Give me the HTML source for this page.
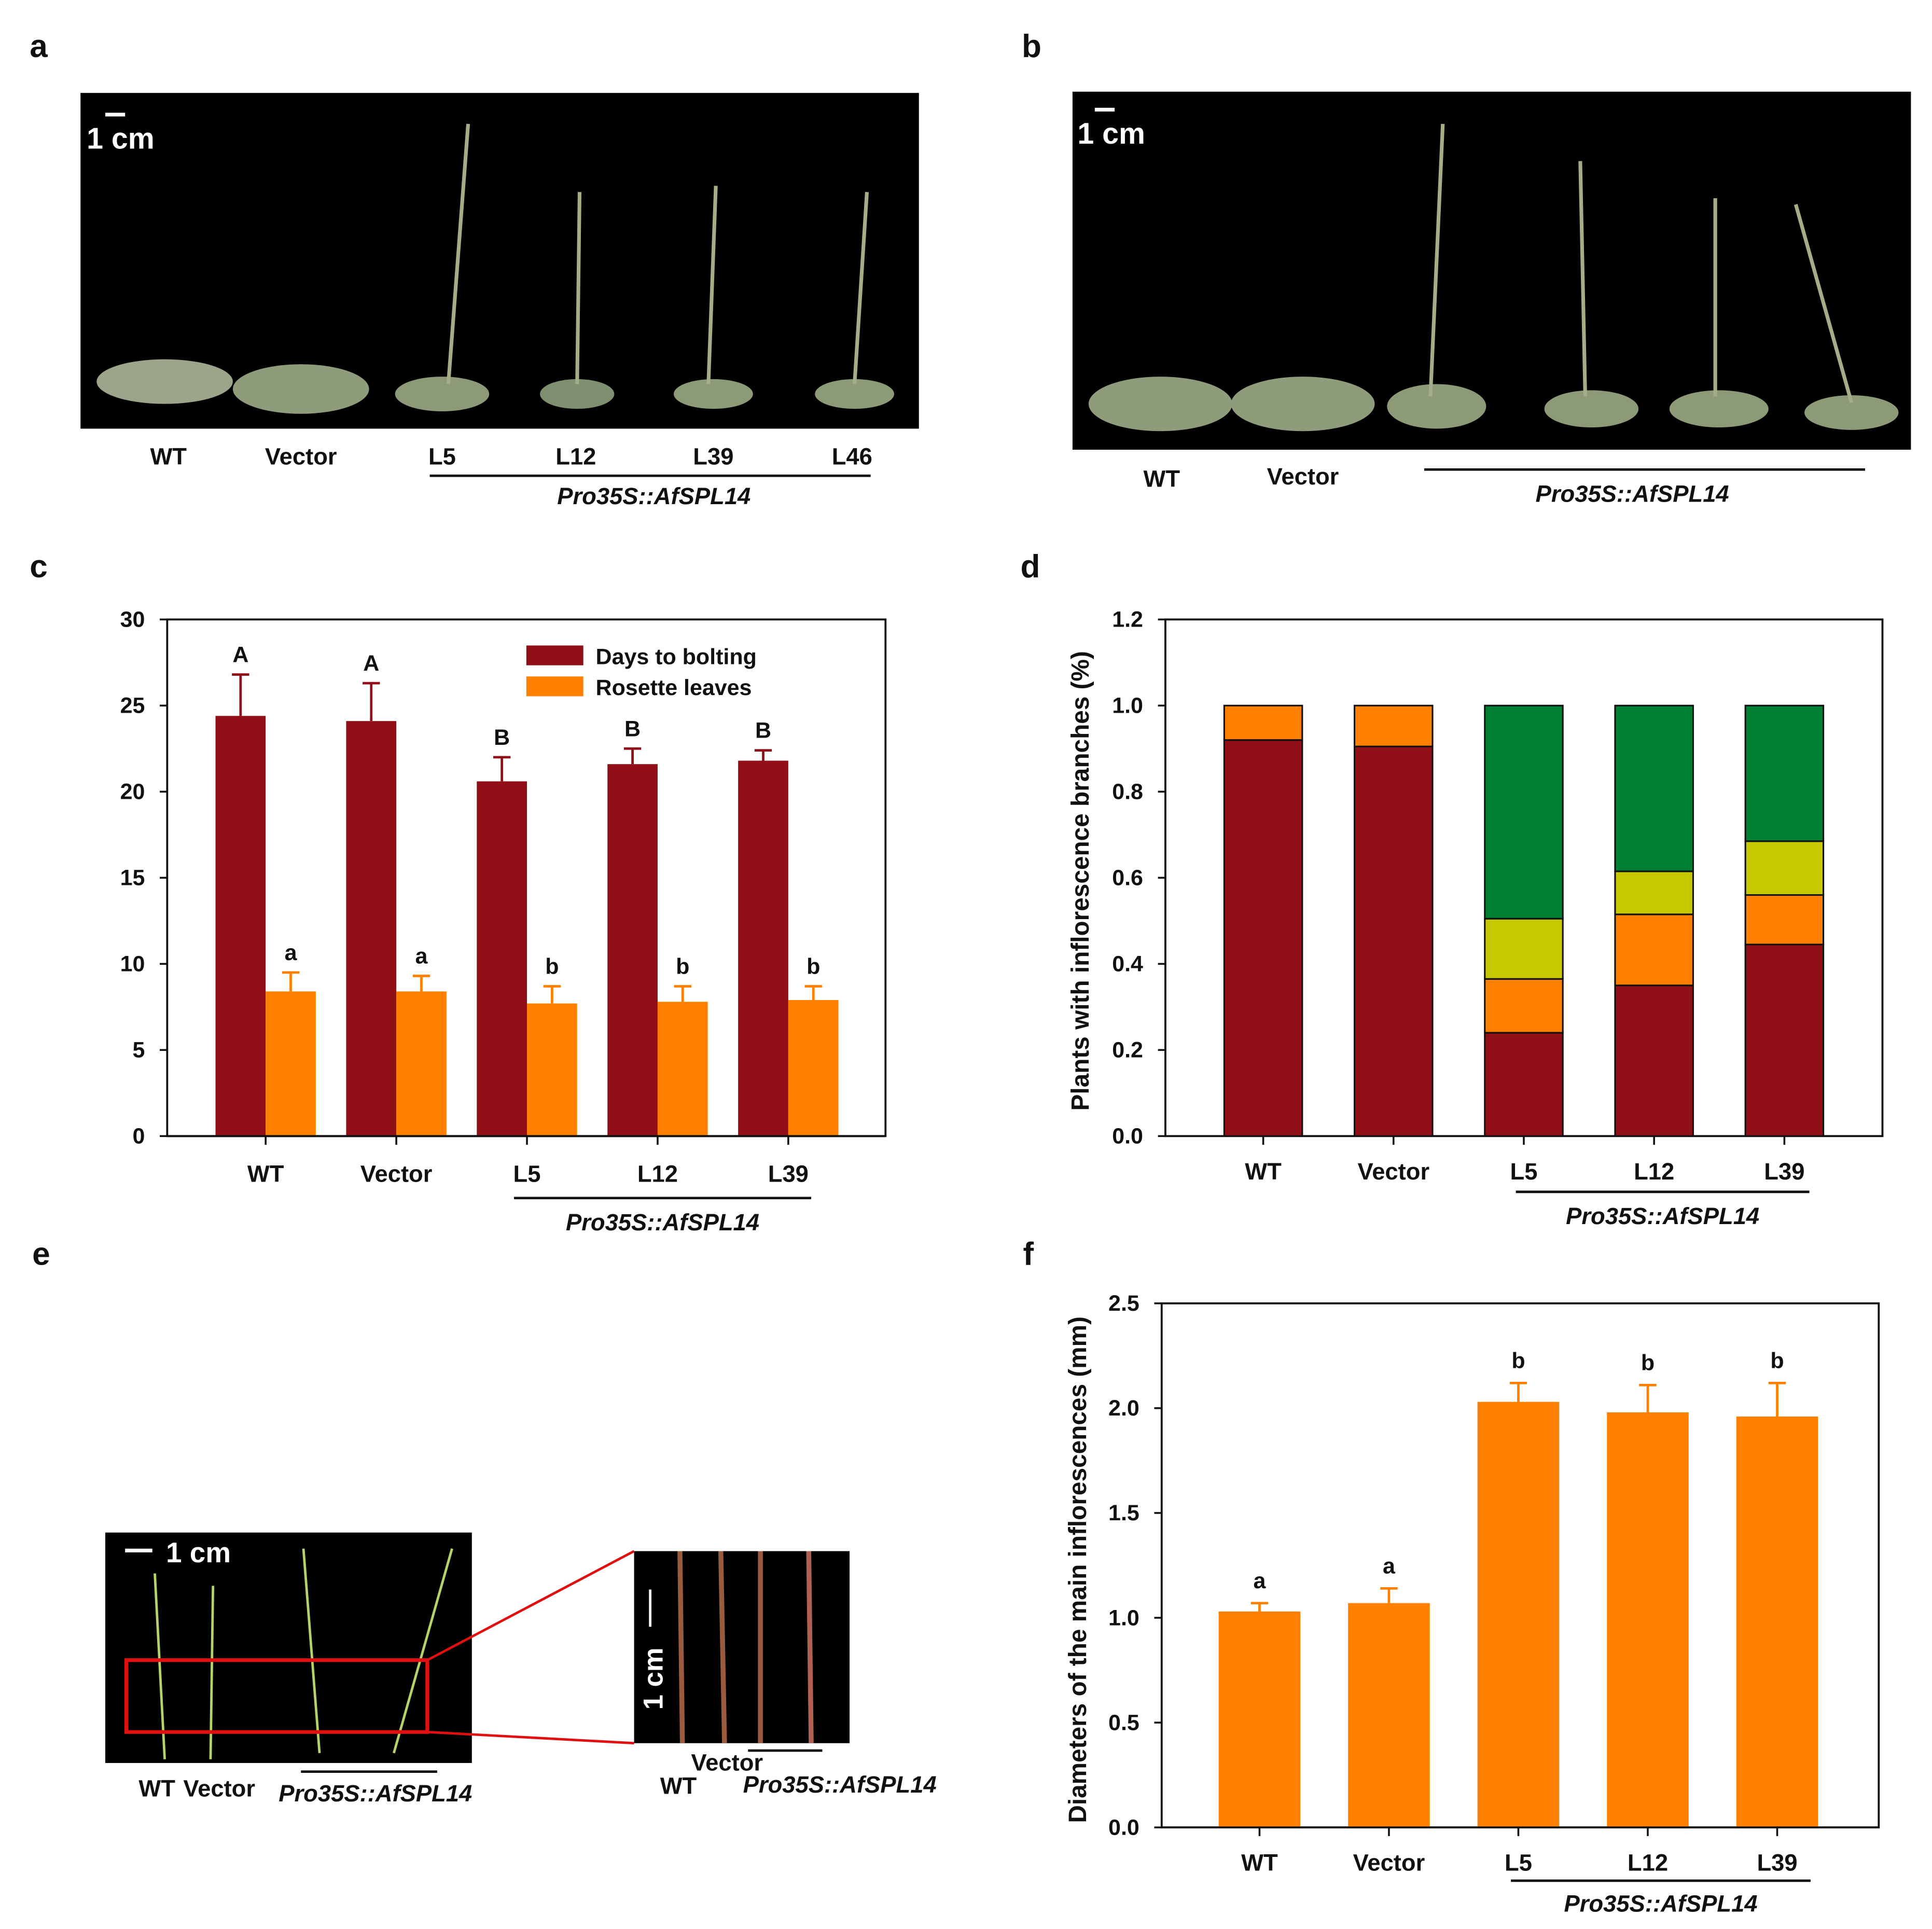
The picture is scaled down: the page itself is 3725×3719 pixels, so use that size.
<!DOCTYPE html>
<html><head><meta charset="utf-8">
<style>
html,body{margin:0;padding:0;background:#fff;}
svg{display:block;}
text{font-family:"Liberation Sans Narrow","Liberation Sans",sans-serif;font-weight:bold;fill:#111;}
.it{font-style:italic;}
</style></head>
<body>
<svg id="fig" width="3725" height="3719" viewBox="0 0 1560 1557" preserveAspectRatio="none" xmlns="http://www.w3.org/2000/svg">
<text x="24" y="46" font-size="26">a</text>
<text x="825" y="46" font-size="26">b</text>
<text x="24" y="466" font-size="26">c</text>
<text x="824" y="466" font-size="26">d</text>
<text x="26" y="1021" font-size="26">e</text>
<text x="826" y="1021" font-size="26">f</text>

<g>
<rect x="65" y="75" width="677" height="271" fill="#000"/>
<rect x="85" y="91" width="16" height="3" fill="#fff"/>
<text x="70" y="120" font-size="24" style="fill:#fff">1 cm</text>
<ellipse cx="133" cy="308" rx="55" ry="18" fill="#9aa58a"/>
<ellipse cx="243" cy="314" rx="55" ry="20" fill="#8f9c7c"/>
<ellipse cx="357" cy="318" rx="38" ry="14" fill="#8d9a78"/>
<line x1="362" y1="310" x2="378" y2="100" stroke="#a4ad88" stroke-width="3"/>
<ellipse cx="466" cy="318" rx="30" ry="12" fill="#7f9070"/>
<line x1="466" y1="310" x2="468" y2="155" stroke="#a4ad88" stroke-width="3"/>
<ellipse cx="576" cy="318" rx="32" ry="12" fill="#8d9a78"/>
<line x1="572" y1="310" x2="578" y2="150" stroke="#a4ad88" stroke-width="3"/>
<ellipse cx="690" cy="318" rx="32" ry="12" fill="#8d9a78"/>
<line x1="690" y1="310" x2="700" y2="155" stroke="#a4ad88" stroke-width="3"/>
</g>
<text x="136" y="375" font-size="19" text-anchor="middle">WT</text>
<text x="243" y="375" font-size="19" text-anchor="middle">Vector</text>
<text x="357" y="375" font-size="19" text-anchor="middle">L5</text>
<text x="465" y="375" font-size="19" text-anchor="middle">L12</text>
<text x="576" y="375" font-size="19" text-anchor="middle">L39</text>
<text x="688" y="375" font-size="19" text-anchor="middle">L46</text>
<line x1="347" y1="384" x2="703" y2="384" stroke="#111" stroke-width="2"/>
<text class="it" x="528" y="407" font-size="19" text-anchor="middle">Pro35S::AfSPL14</text>

<g>
<rect x="866" y="74" width="677" height="289" fill="#000"/>
<rect x="884" y="87" width="16" height="3" fill="#fff"/>
<text x="870" y="116" font-size="24" style="fill:#fff">1 cm</text>
<ellipse cx="937" cy="326" rx="58" ry="22" fill="#8f9c7c"/>
<ellipse cx="1052" cy="326" rx="58" ry="22" fill="#8f9c7c"/>
<ellipse cx="1160" cy="328" rx="40" ry="18" fill="#8d9a78"/>
<line x1="1155" y1="320" x2="1165" y2="100" stroke="#a4ad88" stroke-width="3"/>
<ellipse cx="1285" cy="330" rx="38" ry="15" fill="#8d9a78"/>
<line x1="1280" y1="320" x2="1276" y2="130" stroke="#a4ad88" stroke-width="3"/>
<ellipse cx="1388" cy="330" rx="40" ry="15" fill="#8d9a78"/>
<line x1="1385" y1="320" x2="1385" y2="160" stroke="#a4ad88" stroke-width="3"/>
<ellipse cx="1495" cy="333" rx="38" ry="14" fill="#8d9a78"/>
<line x1="1495" y1="325" x2="1450" y2="165" stroke="#a4ad88" stroke-width="3"/>
</g>
<text x="938" y="393" font-size="19" text-anchor="middle">WT</text>
<text x="1052" y="391" font-size="19" text-anchor="middle">Vector</text>
<line x1="1150" y1="379" x2="1506" y2="379" stroke="#111" stroke-width="2"/>
<text class="it" x="1318" y="405" font-size="19" text-anchor="middle">Pro35S::AfSPL14</text>

<g>
<rect x="85" y="1237" width="296" height="186" fill="#000"/>
<rect x="101" y="1250" width="22" height="3" fill="#fff"/>
<text x="134" y="1261" font-size="23" style="fill:#fff">1 cm</text>
<line x1="125" y1="1270" x2="133" y2="1420" stroke="#b5d36a" stroke-width="2"/>
<line x1="172" y1="1280" x2="170" y2="1420" stroke="#b5d36a" stroke-width="2"/>
<line x1="245" y1="1250" x2="258" y2="1415" stroke="#b5d36a" stroke-width="2"/>
<line x1="365" y1="1250" x2="318" y2="1415" stroke="#b5d36a" stroke-width="2"/>
<rect x="102" y="1340" width="243" height="58" fill="none" stroke="#e01010" stroke-width="3"/>
<line x1="345" y1="1340" x2="512" y2="1252" stroke="#e01010" stroke-width="2"/>
<line x1="345" y1="1398" x2="512" y2="1407" stroke="#e01010" stroke-width="2"/>
<rect x="512" y="1252" width="174" height="155" fill="#000"/>
<line x1="549" y1="1252" x2="551" y2="1407" stroke="#9a5a3c" stroke-width="4"/>
<line x1="582" y1="1252" x2="585" y2="1407" stroke="#9a5a3c" stroke-width="4"/>
<line x1="614" y1="1252" x2="614" y2="1407" stroke="#9a5a3c" stroke-width="4"/>
<line x1="653" y1="1252" x2="655" y2="1407" stroke="#b06050" stroke-width="4"/>
<line x1="525" y1="1283" x2="525" y2="1313" stroke="#fff" stroke-width="2"/>
<text transform="translate(535,1380) rotate(-90)" font-size="22" style="fill:#fff">1 cm</text>
</g>
<text x="112" y="1450" font-size="19">WT</text>
<text x="148" y="1450" font-size="19">Vector</text>
<line x1="243" y1="1430" x2="353" y2="1430" stroke="#111" stroke-width="2"/>
<text class="it" x="225" y="1454" font-size="19">Pro35S::AfSPL14</text>
<text x="558" y="1429" font-size="19">Vector</text>
<line x1="604" y1="1413" x2="664" y2="1413" stroke="#111" stroke-width="2"/>
<text x="533" y="1448" font-size="19">WT</text>
<text class="it" x="600" y="1447" font-size="19">Pro35S::AfSPL14</text>

<g id="chartC"></g>
<g id="chartD"></g>
<g id="chartF"></g>
</svg>
<script>
const categories = ["WT","Vector","L5","L12","L39"];
const boltDays = [24.4,24.1,20.6,21.6,21.8];
const boltErr = [2.4,2.2,1.4,0.9,0.6];
const boltLetters = ["A","A","B","B","B"];
const rosette = [8.4,8.4,7.7,7.8,7.9];
const rosetteErr = [1.1,0.9,1.0,0.9,0.8];
const rosetteLetters = ["a","a","b","b","b"];
const cTicks = [0,5,10,15,20,25,30];

const branch0 = [0.92,0.905,0.24,0.35,0.445];
const branch1 = [0.08,0.095,0.125,0.165,0.115];
const branch2 = [0,0,0.14,0.10,0.125];
const branch3 = [0,0,0.495,0.385,0.315];
const dTicks = ["0.0","0.2","0.4","0.6","0.8","1.0","1.2"];

const diam = [1.03,1.07,2.03,1.98,1.96];
const diamErr = [0.04,0.07,0.09,0.13,0.16];
const diamLetters = ["a","a","b","b","b"];
const fTicks = ["0.0","0.5","1.0","1.5","2.0","2.5"];

const NS="http://www.w3.org/2000/svg";
function mk(parent, tag, attrs, txt){const e=document.createElementNS(NS,tag);for(const k in attrs)e.setAttribute(k,attrs[k]);if(txt!==undefined)e.textContent=txt;parent.appendChild(e);return e;}
const RED="#911018", ORG="#ff8000", YEL="#c8c800", GRN="#008033";

function frame(g,L,R,T,B,ticks,yPos){
  let el=mk(g,'rect',{x:L,y:T,width:R-L,height:B-T,fill:'none',stroke:'#111','stroke-width':1.6});
  
  
  ticks.forEach(t=>{const v=parseFloat(t);const y=yPos(v);
    let tk=mk(g,'line',{x1:L-6,x2:L,y1:y,y2:y,stroke:'#111','stroke-width':1.5});
    
    
    let tl=mk(g,'text',{x:L-18,y:y+6,'font-size':18,'text-anchor':'end'},String(t));
    
    
  });
}
function xlabels(g,xs,B,ly){
  categories.forEach((c,i)=>{
    let tk=mk(g,'line',{x1:xs(i),x2:xs(i),y1:B,y2:B+7,stroke:'#111','stroke-width':1.5});
    
    
    let tl=mk(g,'text',{x:xs(i),y:ly,'font-size':19,'text-anchor':'middle'},c);
    
    
  });
}
function group(g,x1,x2,y,ty){
  let l=mk(g,'line',{x1:x1,x2:x2,y1:y,y2:y,stroke:'#111','stroke-width':2});
  
  
  let t=mk(g,'text',{x:(x1+x2)/2,y:ty,'font-size':19,'text-anchor':'middle','class':'it'},'Pro35S::AfSPL14');
  
  
}
function errbar(g,x,yTop,yErr,col){
  let e=mk(g,'path',{d:`M${x},${yTop}V${yErr}M${x-7},${yErr}H${x+7}`,stroke:col,'stroke-width':2,fill:'none'});
  
  
}

// chart c
(function(){
  const g=document.getElementById('chartC');
  const L=135,R=715,T=500,B=917,yMax=30;
  const y=v=>B-(v/yMax)*(B-T);
  const xs=i=>214.5+i*105.5;
  const w=40.5;
  frame(g,L,R,T,B,cTicks,y);
  categories.forEach((c,i)=>{
    let b=mk(g,'rect',{x:xs(i)-w,y:y(boltDays[i]),width:w,height:B-y(boltDays[i]),fill:RED});
    
    
    errbar(g,xs(i)-w/2,y(boltDays[i]),y(boltDays[i]+boltErr[i]),RED);
    let t=mk(g,'text',{x:xs(i)-w/2,y:y(boltDays[i]+boltErr[i])-10,'font-size':18,'text-anchor':'middle'},boltLetters[i]);
    
    
    let b2=mk(g,'rect',{x:xs(i),y:y(rosette[i]),width:w,height:B-y(rosette[i]),fill:ORG});
    
    
    errbar(g,xs(i)+w/2,y(rosette[i]),y(rosette[i]+rosetteErr[i]),ORG);
    let t2=mk(g,'text',{x:xs(i)+w/2,y:y(rosette[i]+rosetteErr[i])-10,'font-size':18,'text-anchor':'middle'},rosetteLetters[i]);
    
    
  });
  let ax=mk(g,'line',{x1:L,x2:R,y1:B,y2:B,stroke:'#111','stroke-width':1.6});
  
  
  xlabels(g,xs,B,954);
  group(g,415,655,967,993);
  let l1=mk(g,'rect',{x:425,y:521,width:46,height:16,fill:RED});
  
  
  let lt1=mk(g,'text',{x:481,y:536,'font-size':18},'Days to bolting');
  
  
  let l2=mk(g,'rect',{x:425,y:546,width:46,height:16,fill:ORG});
  
  
  let lt2=mk(g,'text',{x:481,y:561,'font-size':18},'Rosette leaves');
  
  
})();

// chart d
(function(){
  const g=document.getElementById('chartD');
  const L=941,R=1520,T=500,B=917,yMax=1.2;
  const y=v=>B-(v/yMax)*(B-T);
  const xs=i=>1020+i*105.2;
  const w=63;
  frame(g,L,R,T,B,dTicks,y);
  const series=[branch0,branch1,branch2,branch3];
  const cols=[RED,ORG,YEL,GRN];
  const names=['no-branch','one-branch','two-branches','three-plus-branches'];
  categories.forEach((c,i)=>{
    let base=0;
    series.forEach((s,k)=>{
      if(s[i]<=0)return;
      let r=mk(g,'rect',{x:xs(i)-w/2,y:y(base+s[i]),width:w,height:y(base)-y(base+s[i]),fill:cols[k],stroke:'#111','stroke-width':1.3});
      
      
      base+=s[i];
    });
  });
  xlabels(g,xs,B,952);
  group(g,1224,1461,962,988);
  let t=mk(g,'text',{transform:'translate(879,711) rotate(-90)','font-size':20,'text-anchor':'middle'},'Plants with inflorescence branches (%)');
  
  
})();

// chart f
(function(){
  const g=document.getElementById('chartF');
  const L=938,R=1517,T=1052,B=1475,yMax=2.5;
  const y=v=>B-(v/yMax)*(B-T);
  const xs=i=>1017+i*104.5;
  const w=66;
  frame(g,L,R,T,B,fTicks,y);
  categories.forEach((c,i)=>{
    let b=mk(g,'rect',{x:xs(i)-w/2,y:y(diam[i]),width:w,height:B-y(diam[i]),fill:ORG});
    
    
    errbar(g,xs(i),y(diam[i]),y(diam[i]+diamErr[i]),ORG);
    let t=mk(g,'text',{x:xs(i),y:y(diam[i]+diamErr[i])-12,'font-size':18,'text-anchor':'middle'},diamLetters[i]);
    
    
  });
  let ax=mk(g,'line',{x1:L,x2:R,y1:B,y2:B,stroke:'#111','stroke-width':1.6});
  
  
  xlabels(g,xs,B,1510);
  group(g,1220,1462,1518,1543);
  let t=mk(g,'text',{transform:'translate(877,1267) rotate(-90)','font-size':20,'text-anchor':'middle'},'Diameters of the main inflorescences (mm)');
  
  
})();
</script>
</body></html>
